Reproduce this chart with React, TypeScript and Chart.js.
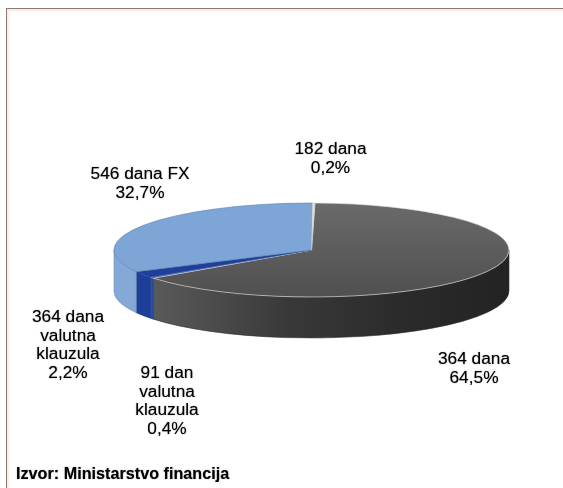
import React, { useEffect, useRef } from "react";
import { Chart, registerables } from "chart.js";

Chart.register(...registerables);

const categories = [
  ["364 dana"],
  ["91 dan", "valutna", "klauzula"],
  ["364 dana", "valutna", "klauzula"],
  ["546 dana FX"],
  ["182 dana"],
];
const shares = [64.5, 0.4, 2.2, 32.7, 0.2];
const sourceNote = "Izvor: Ministarstvo financija";

const topColors = ["#5c5c5c", "#24489f", "#1f3f9a", "#7da5d5", "#e4e4e4"];
const edgeColors = ["#efe3dc", "#c9d4ea", "#2a4a9c", "#5f83ac", "#c8c8c8"];
const labelCentres = [
  [474, 359],
  [167, 373],
  [68, 317],
  [140, 174.5],
  [330.5, 149.5],
];
const RX = 197.5;
const RY = 47;
const DEPTH = 41;
const LINE = 18.8;
const FONT_SIZE = 17.3;

function wallFill(ctx: CanvasRenderingContext2D, i: number, cx: number) {
  const g = ctx.createLinearGradient(cx - RX, 0, cx + RX, 0);
  if (i === 0) {
    g.addColorStop(0.1, "#5a5a5a");
    g.addColorStop(0.45, "#383838");
    g.addColorStop(0.75, "#2a2a2a");
    g.addColorStop(1, "#232323");
    return g;
  }
  if (i === 3) return "#85a9d6";
  if (i === 1) return "#2a4fa6";
  return i === 2 ? "#1e3f99" : "#cccccc";
}

const pie3d = {
  id: "pie3d",
  beforeDatasetsDraw(chart: any) {
    const ctx = chart.ctx;
    const meta = chart.getDatasetMeta(0);
    const cx = meta.data[0].x;
    const cy = meta.data[0].y;
    const k = RY / RX;
    const TWO = Math.PI * 2;
    ctx.save();
    meta.data.forEach((arc: any, i: number) => {
      let a = arc.startAngle;
      let b = arc.endAngle;
      while (a < -1e-6) {
        a += TWO;
        b += TWO;
      }
      for (const off of [0, TWO]) {
        const s = Math.max(a - off, 0);
        const e = Math.min(b - off, Math.PI);
        if (e <= s) continue;
        ctx.beginPath();
        ctx.ellipse(cx, cy, RX, RY, 0, s, e, false);
        ctx.ellipse(cx, cy + DEPTH, RX, RY, 0, e, s, true);
        ctx.closePath();
        ctx.fillStyle = wallFill(ctx, i, cx);
        ctx.fill();
        ctx.lineWidth = 0.6;
        ctx.strokeStyle = i === 3 ? "#6f8fb5" : i === 0 ? "#333333" : "#1c3a8c";
        ctx.stroke();
      }
    });
    ctx.restore();
    ctx.save();
    ctx.translate(cx, cy);
    ctx.scale(1, k);
    ctx.translate(-cx, -cy);
  },
  afterDatasetsDraw(chart: any) {
    chart.ctx.restore();
    const ctx = chart.ctx;
    ctx.save();
    ctx.fillStyle = "#000000";
    ctx.shadowColor = "rgba(0,0,0,0.55)";
    ctx.shadowBlur = 1.2;
    ctx.textAlign = "center";
    ctx.textBaseline = "middle";
    ctx.font = `${FONT_SIZE}px "Liberation Sans", Arial, sans-serif`;
    categories.forEach((lines, i) => {
      const pct = shares[i].toFixed(1).replace(".", ",") + "%";
      const [x, y] = labelCentres[i];
      [...lines, pct].forEach((t, n) => ctx.fillText(t, x, y + n * LINE));
    });
    ctx.textAlign = "left";
    ctx.font = `bold 16.2px "Liberation Sans", Arial, sans-serif`;
    ctx.fillText(sourceNote, 16, 475);
    ctx.restore();
  },
};

export default function App() {
  const ref = useRef<HTMLCanvasElement | null>(null);
  useEffect(() => {
    document.body.style.margin = "0";
    const chart = new Chart(ref.current as HTMLCanvasElement, {
      type: "pie",
      data: {
        labels: categories.map((c) => c.join(" ")),
        datasets: [
          {
            data: shares,
            clip: false,
            backgroundColor: (c: any) => {
              if (c.dataIndex !== 0) return topColors[c.dataIndex];
              const a = c.chart.chartArea;
              if (!a) return topColors[0];
              const cy = (a.top + a.bottom) / 2;
              const g = c.chart.ctx.createLinearGradient(0, cy - RX, 0, cy + RX);
              g.addColorStop(0, "#6a6a6a");
              g.addColorStop(1, "#505050");
              return g;
            },
            borderColor: edgeColors,
            borderWidth: 1,
            radius: RX,
          } as any,
        ],
      },
      options: {
        responsive: false,
        animation: false,
        rotation: 1,
        events: [],
        layout: { padding: { left: 60, right: 0, top: 12, bottom: 0 } },
        plugins: { legend: { display: false }, tooltip: { enabled: false }, title: { display: false } },
      },
      plugins: [pie3d],
    } as any);
    return () => chart.destroy();
  }, []);
  return (
    <div style={{ position: "absolute", left: 0, top: 0, width: 563, height: 488, background: "#fff", overflow: "hidden" }}>
      <canvas ref={ref} width={563} height={488} style={{ display: "block" }} />
      <div
        style={{
          position: "absolute",
          left: 6,
          top: 8,
          width: 560,
          height: 490,
          boxSizing: "border-box",
          border: "1px solid #8b7d74",
          boxShadow: "inset 2px 2px 2px #fbe9e2",
          pointerEvents: "none",
        }}
      />
    </div>
  );
}
